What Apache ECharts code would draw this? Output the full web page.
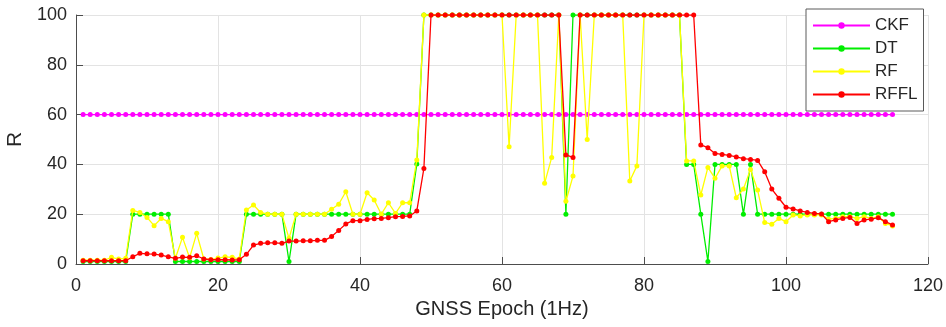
<!DOCTYPE html>
<html>
<head>
<meta charset="utf-8">
<style>
  html, body { margin: 0; padding: 0; background: #fff; }
  #chart { width: 946px; height: 327px; }
</style>
<script src="https://cdn.jsdelivr.net/npm/echarts@6/dist/echarts.min.js"></script>
</head>
<body>
<div id="chart"></div>
<script>
// R value per GNSS epoch (1 Hz), epochs 1..115
const seriesNames = ['CKF', 'DT', 'RF', 'RFFL'];
const xTicks = [0, 20, 40, 60, 80, 100, 120];
const yTicks = [0, 20, 40, 60, 80, 100];

const ckf = [
  60,60,60,60,60,60,60,60,60,60, 60,60,60,60,60,60,60,60,60,60,
  60,60,60,60,60,60,60,60,60,60, 60,60,60,60,60,60,60,60,60,60,
  60,60,60,60,60,60,60,60,60,60, 60,60,60,60,60,60,60,60,60,60,
  60,60,60,60,60,60,60,60,60,60, 60,60,60,60,60,60,60,60,60,60,
  60,60,60,60,60,60,60,60,60,60, 60,60,60,60,60,60,60,60,60,60,
  60,60,60,60,60,60,60,60,60,60, 60,60,60,60,60
];

const dt = [
  1,1,1,1,1,1,1,
  20,20,20,20,20,20,
  1,1,1,1,1,1,1,1,1,1,
  20,20,20,20,20,20,
  1,
  20,20,20,20,20,20,20,20,20,20,20,20,20,20,20,20,20,
  40.2,
  100,100,100,100,100,100,100,100,100,100,100,100,100,100,100,100,100,100,100,100,
  20,
  100,100,100,100,100,100,100,100,100,100,100,100,100,100,100,100,
  40,40,20,1,40,40,40,40,20,40,
  20,20,20,20,20,20,20,20,20,20,20,20,20,20,20,20,20,20,20,20
];

const rf = [
  1.5,1.5,1.5,1.5,2.7,2,2.3,
  21.5,20.7,18.7,15.4,18.3,17,
  2.3,10.7,2.5,12.3,2,1.8,2.4,2.9,2.7,2,
  21.7,23.7,20.7,20,20,20,
  10.3,
  20,20,20,20,20,22,24,29,20,20,
  28.6,25.7,20,24.6,20.3,24.6,24.6,41.8,
  100,100,100,100,100,100,100,100,100,100,100,100,
  47.1,
  100,100,100,100,
  32.4,42.8,100,25.2,35.3,100,50,
  100,100,100,100,100,
  33.3,39.4,
  100,100,100,100,100,100,
  41.4,41.4,27.7,38.8,34.4,39.4,39.4,26.6,30.1,38,
  29.7,16.7,16,18.3,17,
  19.7,19.3,19.7,19.7,19.7,18,18.3,19,19,18.3,
  19,18.3,19,16.3,15.3
];

const rffl = [
  1.3,1.3,1.3,1.3,1.3,1.3,1.3,
  2.9,4.3,4.1,4,3.6,2.9,
  2.3,2.8,2.7,3.3,2,1.7,1.7,1.7,1.6,1.7,
  3.9,7.6,8.3,8.5,8.5,8.3,9.2,9.2,9.3,9.3,
  9.5,9.5,11,13.5,16.1,17.4,17.4,
  17.9,18.2,18.3,18.6,19,19.1,19.3,21.3,38.4,
  100,100,100,100,100,100,100,100,100,100,100,100,100,100,100,100,100,100,100,
  43.8,42.8,
  100,100,100,100,100,100,100,100,100,100,100,100,100,100,100,100,100,
  47.8,46.7,44.4,44,43.6,43,42.3,42,41.6,37,
  30.1,26.4,22.8,22.1,21.3,20.7,20.3,20.1,
  17,17.7,18.3,18.7,16.3,17.7,18,18.6,17,15.7
];

const colors = ['#ff00ff', '#00ee00', '#ffff00', '#ff0000'];
const values = [ckf, dt, rf, rffl];

const font = '"Liberation Sans", Arial, sans-serif';
const ink = '#262626';

function pairs(arr) {
  return arr.map((v, i) => [i + 1, v]);
}

const chart = echarts.init(document.getElementById('chart'), null, { renderer: 'canvas' });

chart.setOption({
  animation: false,
  backgroundColor: '#ffffff',
  grid: { left: 76, right: 18, top: 15, bottom: 63, containLabel: false, outerBoundsMode: 'none' },
  legend: {
    orient: 'vertical',
    left: 806,
    top: 9,
    width: 118,
    padding: [8, 6, 8, 6],
    itemGap: 6,
    itemWidth: 57,
    itemHeight: 8,
    borderColor: '#5a5a5a',
    borderWidth: 1,
    backgroundColor: '#ffffff',
    textStyle: { fontFamily: font, fontSize: 17, color: ink },
    data: seriesNames
  },
  xAxis: {
    type: 'value',
    min: xTicks[0],
    max: xTicks[xTicks.length - 1],
    interval: 20,
    name: 'GNSS Epoch (1Hz)',
    nameLocation: 'middle',
    nameGap: 27,
    nameTextStyle: { fontFamily: font, fontSize: 20, color: ink },
    axisLine: { lineStyle: { color: '#4d4d4d', width: 1 } },
    axisTick: { inside: true, length: 7, lineStyle: { color: '#4d4d4d' } },
    axisLabel: { fontFamily: font, fontSize: 18, color: ink, margin: 13 },
    splitLine: { show: true, lineStyle: { color: '#e3e3e3', width: 1 } }
  },
  yAxis: {
    type: 'value',
    min: yTicks[0],
    max: yTicks[yTicks.length - 1],
    interval: 20,
    name: 'R',
    nameLocation: 'middle',
    nameGap: 48,
    nameTextStyle: { fontFamily: font, fontSize: 21, color: ink },
    axisLine: { show: true, lineStyle: { color: '#4d4d4d', width: 1 } },
    axisTick: { show: true, inside: true, length: 7, lineStyle: { color: '#4d4d4d' } },
    axisLabel: { fontFamily: font, fontSize: 18, color: ink, margin: 9 },
    splitLine: { show: true, lineStyle: { color: '#e3e3e3', width: 1 } }
  },
  series: seriesNames.map((name, k) => ({
    name: name,
    type: 'line',
    data: pairs(values[k]),
    symbol: 'circle',
    symbolSize: 5,
    showSymbol: true,
    lineStyle: { color: colors[k], width: 1.3 },
    itemStyle: { color: colors[k] },
    z: 2 + k
  }))
});
</script>
</body>
</html>
